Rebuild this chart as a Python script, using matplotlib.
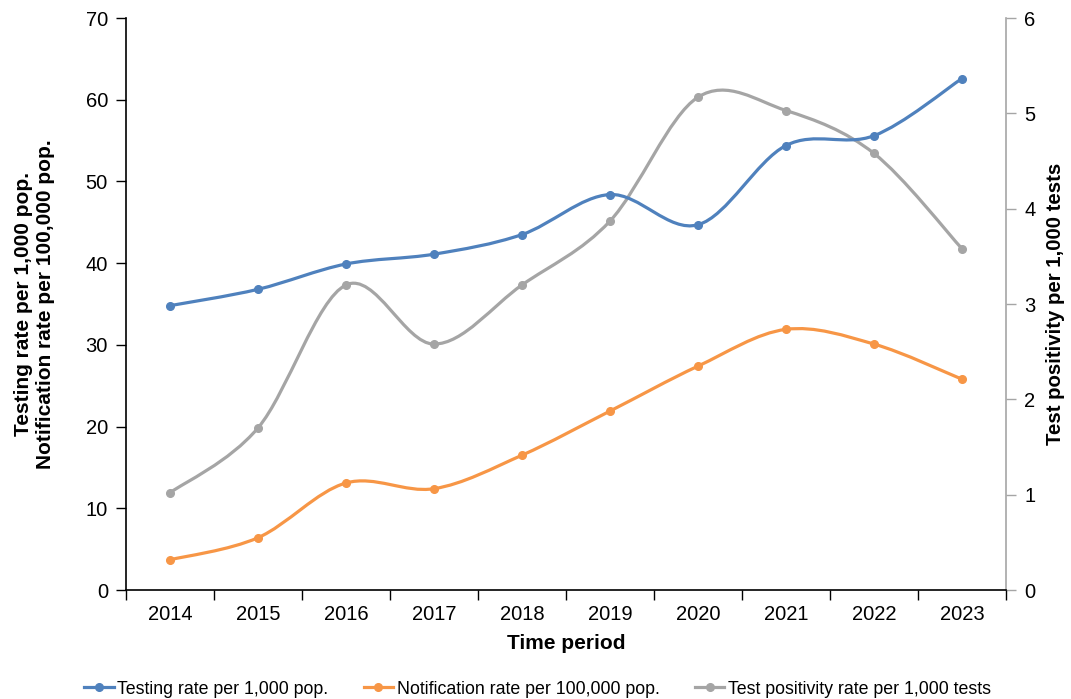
import matplotlib
matplotlib.use("Agg")
import matplotlib.pyplot as plt
from matplotlib.path import Path
from matplotlib.patches import PathPatch
from matplotlib.lines import Line2D
import numpy as np

plt.rcParams['font.family'] = ['Liberation Sans', 'DejaVu Sans']

years = ['2014', '2015', '2016', '2017', '2018', '2019', '2020', '2021', '2022', '2023']
testing_rate = [34.8, 36.8, 39.9, 41.1, 43.5, 48.4, 44.7, 54.4, 55.6, 62.6]
notification_rate = [3.7, 6.4, 13.1, 12.4, 16.5, 21.9, 27.4, 31.9, 30.1, 25.8]
positivity_rate = [1.02, 1.70, 3.20, 2.58, 3.20, 3.87, 5.17, 5.03, 4.58, 3.58]

BLUE = '#4F81BD'
ORANGE = '#F79646'
GRAY = '#A5A5A5'


def smooth_path(x, y):
    # Excel-style smoothed line: cubic Bezier segments with Catmull-Rom control points
    pts = np.column_stack([x, y]).astype(float)
    verts = [pts[0]]
    codes = [Path.MOVETO]
    n = len(pts)
    for i in range(n - 1):
        p0 = pts[i - 1] if i > 0 else pts[i]
        p1 = pts[i]
        p2 = pts[i + 1]
        p3 = pts[i + 2] if i + 2 < n else pts[i + 1]
        c1 = p1 + (p2 - p0) / 6.0
        c2 = p2 - (p3 - p1) / 6.0
        verts += [c1, c2, p2]
        codes += [Path.CURVE4] * 3
    return Path(verts, codes)


def draw_series(ax, x, y, color):
    ax.add_patch(PathPatch(smooth_path(x, y), fill=False, edgecolor=color,
                           lw=2.3, capstyle='round', joinstyle='round', zorder=3))
    ax.plot(x, y, ls='none', marker='o', ms=5.5, color=color, zorder=4)


fig = plt.figure(figsize=(10.71, 6.99), dpi=100)
ax = fig.add_axes([0.1176, 0.1559, 0.8217, 0.8183])
ax2 = ax.twinx()

x = np.arange(len(years))
draw_series(ax, x, testing_rate, BLUE)
draw_series(ax, x, notification_rate, ORANGE)
draw_series(ax2, x, positivity_rate, GRAY)
ax.set_zorder(ax2.get_zorder() + 1)
ax.patch.set_visible(False)

ax.set_xlim(-0.5, len(years) - 0.5)
ax.set_ylim(0, 70)
ax.set_yticks(np.arange(0, 71, 10))
ax2.set_ylim(0, 6)
ax2.set_yticks(np.arange(0, 7, 1))

ax.set_xticks(x)
ax.set_xticklabels(years)
ax.set_xticks(np.arange(-0.5, len(years), 1), minor=True)
ax.tick_params(axis='x', which='major', length=0, labelsize=14.5, pad=11)
ax.tick_params(axis='x', which='minor', length=7, width=1, color='black')
ax.tick_params(axis='y', length=7, width=1, labelsize=14.5, pad=6)
ax2.tick_params(axis='y', length=7, width=1, color=GRAY, labelsize=14.5, pad=6)

for a in (ax, ax2):
    a.spines['top'].set_visible(False)
ax.spines['right'].set_visible(False)
ax2.spines['left'].set_visible(False)
ax2.spines['bottom'].set_visible(False)
ax2.spines['right'].set_color(GRAY)
ax2.spines['right'].set_linewidth(1.2)
ax.spines['left'].set_linewidth(1.2)
ax.spines['bottom'].set_linewidth(1.2)

ax.set_xlabel('Time period', fontsize=15, fontweight='bold', labelpad=7)
ax.set_ylabel('Testing rate per 1,000 pop.\nNotification rate per 100,000 pop.',
              fontsize=15, fontweight='bold', labelpad=22)
ax2.set_ylabel('Test positivity per 1,000 tests', fontsize=14.7, fontweight='bold', labelpad=8)

handles = [
    Line2D([], [], color=BLUE, lw=2.3, marker='o', ms=5.5),
    Line2D([], [], color=ORANGE, lw=2.3, marker='o', ms=5.5),
    Line2D([], [], color=GRAY, lw=2.3, marker='o', ms=5.5),
]
labels = ['Testing rate per 1,000 pop.', 'Notification rate per 100,000 pop.',
          'Test positivity rate per 1,000 tests']
fig.legend(handles, labels, loc='lower center', bbox_to_anchor=(0.502, -0.021), ncol=3,
           frameon=False, fontsize=12.8, handlelength=1.65, handletextpad=0.2,
           columnspacing=2.0)

fig.savefig('out.png', dpi=100)
